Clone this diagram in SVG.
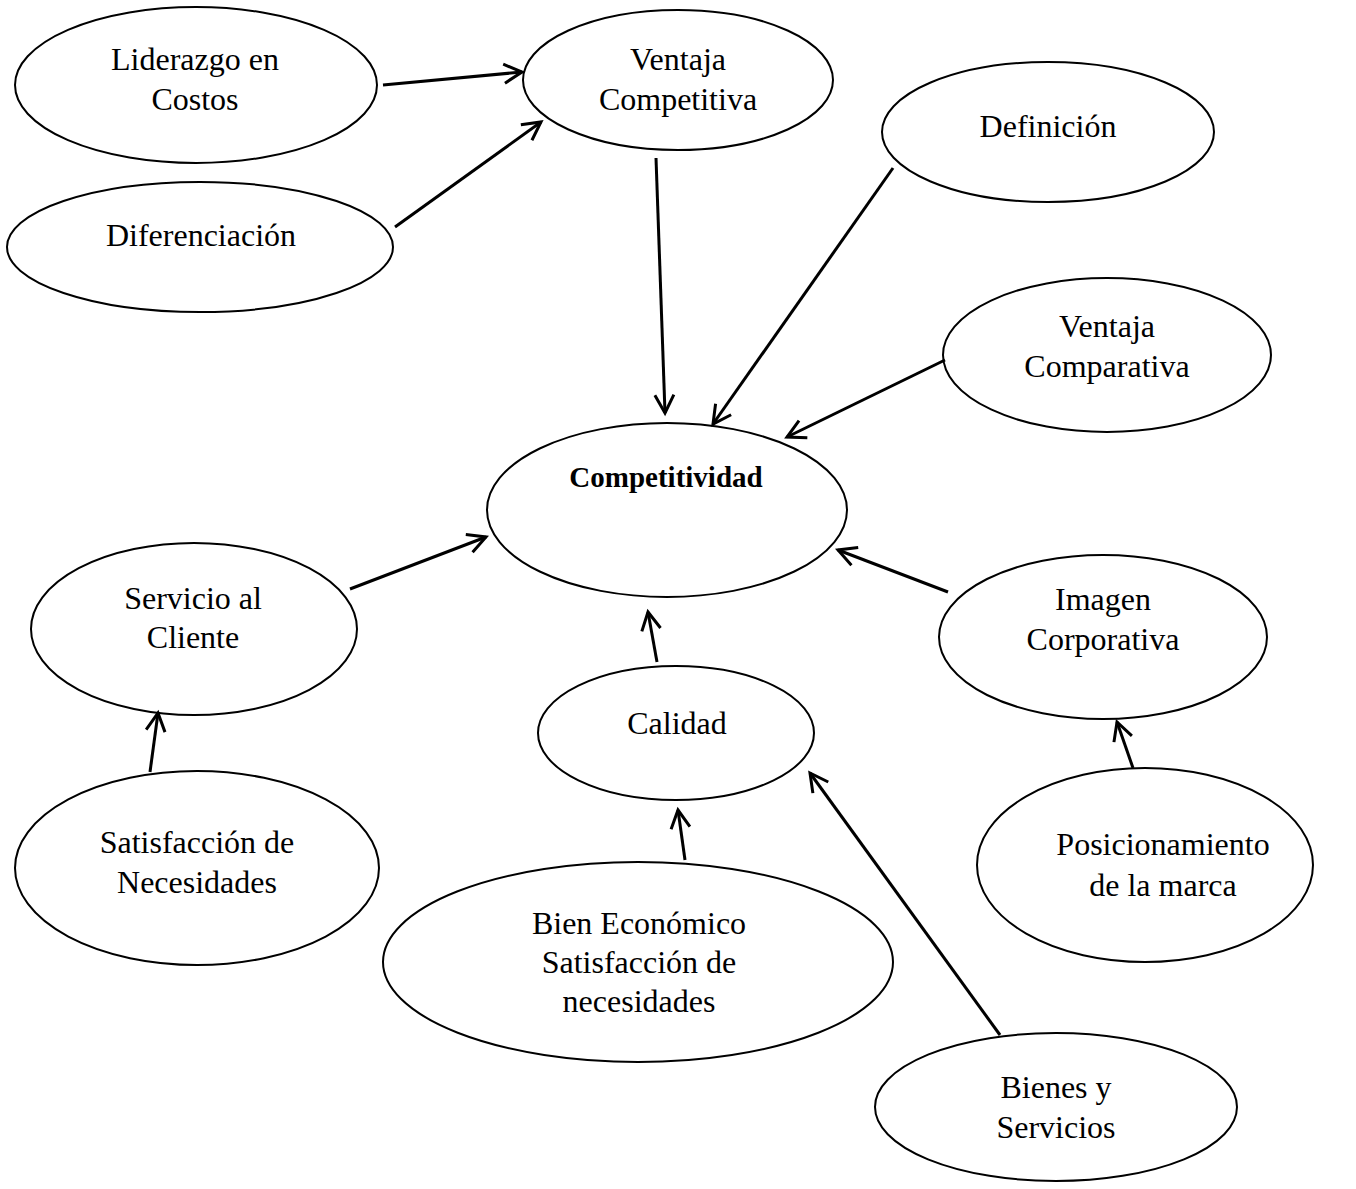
<svg xmlns="http://www.w3.org/2000/svg" width="1356" height="1189" viewBox="0 0 1356 1189">
  <style>
    .node ellipse { fill: #fff; stroke: #000; stroke-width: 2; }
    .node text { font-family: "Liberation Serif", "Times New Roman", serif; font-size: 32px; fill: #000; text-anchor: middle; }
    .node text.main { font-weight: bold; font-size: 29px; }
    .links line { stroke: #000; stroke-width: 3; marker-end: url(#arrow); }
  </style>
  <defs>
    <marker id="arrow" markerWidth="24" markerHeight="24" refX="20" refY="10" orient="auto" markerUnits="userSpaceOnUse" overflow="visible">
      <path d="M2,0.5 L20,10 L2,19.5" fill="none" stroke="#000" stroke-width="3"/>
    </marker>
  </defs>
  <rect width="1356" height="1189" fill="#fff"/>

  <g id="liderazgo" class="node">
    <ellipse cx="196" cy="85" rx="181" ry="78"/>
    <text x="195" y="70">Liderazgo en</text>
    <text x="195" y="110">Costos</text>
  </g>
  <g id="ventaja-competitiva" class="node">
    <ellipse cx="678" cy="80" rx="155" ry="70"/>
    <text x="678" y="70">Ventaja</text>
    <text x="678" y="110">Competitiva</text>
  </g>
  <g id="diferenciacion" class="node">
    <ellipse cx="200" cy="247" rx="193" ry="65"/>
    <text x="201" y="246">Diferenciación</text>
  </g>
  <g id="definicion" class="node">
    <ellipse cx="1048" cy="132" rx="166" ry="70"/>
    <text x="1048" y="137">Definición</text>
  </g>
  <g id="ventaja-comparativa" class="node">
    <ellipse cx="1107" cy="355" rx="164" ry="77"/>
    <text x="1107" y="337">Ventaja</text>
    <text x="1107" y="377">Comparativa</text>
  </g>
  <g id="competitividad" class="node">
    <ellipse cx="667" cy="510" rx="180" ry="87"/>
    <text class="main" x="666" y="487">Competitividad</text>
  </g>
  <g id="servicio" class="node">
    <ellipse cx="194" cy="629" rx="163" ry="86"/>
    <text x="193" y="609">Servicio al</text>
    <text x="193" y="648">Cliente</text>
  </g>
  <g id="imagen" class="node">
    <ellipse cx="1103" cy="637" rx="164" ry="82"/>
    <text x="1103" y="610">Imagen</text>
    <text x="1103" y="650">Corporativa</text>
  </g>
  <g id="calidad" class="node">
    <ellipse cx="676" cy="733" rx="138" ry="67"/>
    <text x="677" y="734">Calidad</text>
  </g>
  <g id="satisfaccion" class="node">
    <ellipse cx="197" cy="868" rx="182" ry="97"/>
    <text x="197" y="853">Satisfacción de</text>
    <text x="197" y="893">Necesidades</text>
  </g>
  <g id="posicionamiento" class="node">
    <ellipse cx="1145" cy="865" rx="168" ry="97"/>
    <text x="1163" y="855">Posicionamiento</text>
    <text x="1163" y="896">de la marca</text>
  </g>
  <g id="bien-economico" class="node">
    <ellipse cx="638" cy="962" rx="255" ry="100"/>
    <text x="639" y="934">Bien Económico</text>
    <text x="639" y="973">Satisfacción de</text>
    <text x="639" y="1012">necesidades</text>
  </g>
  <g id="bienes-servicios" class="node">
    <ellipse cx="1056" cy="1107" rx="181" ry="74"/>
    <text x="1056" y="1098">Bienes y</text>
    <text x="1056" y="1138">Servicios</text>
  </g>

  <g id="connectors" class="links">
    <line x1="383" y1="85" x2="522" y2="72"/>
    <line x1="395" y1="227" x2="541" y2="122"/>
    <line x1="656" y1="158" x2="665" y2="413"/>
    <line x1="893" y1="168" x2="713" y2="424"/>
    <line x1="945" y1="360" x2="787" y2="437"/>
    <line x1="948" y1="592" x2="838" y2="550"/>
    <line x1="657" y1="662" x2="648" y2="612"/>
    <line x1="350" y1="589" x2="486" y2="537"/>
    <line x1="150" y1="772" x2="158" y2="713"/>
    <line x1="685" y1="860" x2="678" y2="810"/>
    <line x1="1000" y1="1035" x2="810" y2="773"/>
    <line x1="1133" y1="768" x2="1117" y2="722"/>
  </g>
</svg>
